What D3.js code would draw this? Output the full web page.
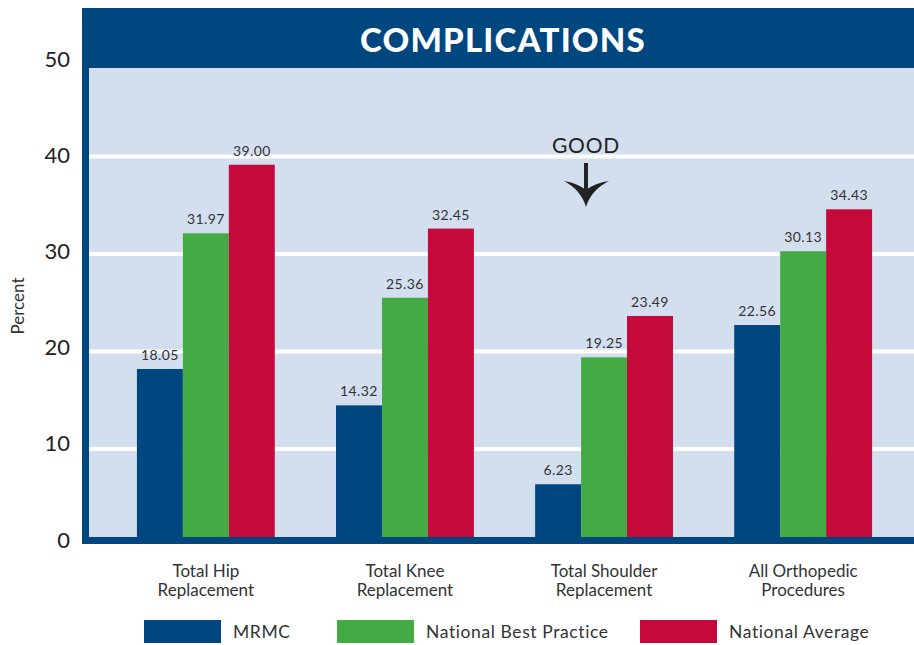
<!DOCTYPE html>
<html>
<head>
<meta charset="utf-8">
<script src="https://cdn.jsdelivr.net/npm/d3@7"></script>
<style>
  body { margin: 0; background: #fff; }
  text { font-family: Lato, "Noto Sans", sans-serif; fill: #333; }
</style>
</head>
<body>
<script>
// chart data
var categories = ["Total Hip Replacement", "Total Knee Replacement", "Total Shoulder Replacement", "All Orthopedic Procedures"];
var categoryLines = [["Total Hip", "Replacement"], ["Total Knee", "Replacement"], ["Total Shoulder", "Replacement"], ["All Orthopedic", "Procedures"]];
var seriesNames = ["MRMC", "National Best Practice", "National Average"];
var mrmc = [18.05, 14.32, 6.23, 22.56];
var bestPractice = [31.97, 25.36, 19.25, 30.13];
var nationalAvg = [39.00, 32.45, 23.49, 34.43];
var yTicks = [0, 10, 20, 30, 40, 50];
var colors = ["#00467f", "#44ab44", "#c5093b"];

var seriesValues = [mrmc, bestPractice, nationalAvg];

var width = 914, height = 645;
var frame = {left: 82, right: 914, top: 8, titleBottom: 68, plotLeft: 89, plotBottom: 537};

var svg = d3.select("body").append("svg")
    .attr("width", width)
    .attr("height", height);

// scales
var xScale = d3.scaleBand()
  .domain(categories)
  .range([106.3, 902.7])
  .paddingInner(0.3076)
  .paddingOuter(0.1538);
var xSub = d3.scaleBand()
  .domain(seriesNames)
  .range([0, xScale.bandwidth()]);
var yScale = d3.scaleLinear()
  .domain([0, 50])
  .range([545, 57.5]);
// tick labels sit on a slightly tighter spacing than the bars
var yLabel = d3.scaleLinear()
  .domain([0, 50])
  .range([547.5, 67]);

// frame: title bar, left border, plot background
svg.append("rect")
    .attr("x", frame.left).attr("y", frame.top)
    .attr("width", frame.right - frame.left).attr("height", frame.plotBottom + 7 - frame.top)
    .attr("fill", "#00467f");
svg.append("rect")
    .attr("x", frame.plotLeft).attr("y", frame.titleBottom)
    .attr("width", frame.right - frame.plotLeft).attr("height", frame.plotBottom - frame.titleBottom)
    .attr("fill", "#d3deef");

svg.append("text")
    .attr("x", 503).attr("y", 52)
    .attr("text-anchor", "middle")
    .style("font-size", "33px").style("font-weight", 900).style("fill", "#fff")
    .style("letter-spacing", "1.2px")
    .text("COMPLICATIONS");

// gridlines
svg.selectAll(".grid")
    .data(yTicks.filter(function(d) { return d > 0 && d < 50; }))
  .enter().append("line")
    .attr("class", "grid")
    .attr("x1", frame.plotLeft).attr("x2", frame.right)
    .attr("y1", function(d) { return yScale(d) + 1.5; })
    .attr("y2", function(d) { return yScale(d) + 1.5; })
    .attr("stroke", "#fff").attr("stroke-width", 4);

// y tick labels
svg.selectAll(".ytick")
    .data(yTicks)
  .enter().append("text")
    .attr("class", "ytick")
    .attr("x", 70)
    .attr("y", function(d) { return yLabel(d); })
    .attr("text-anchor", "end")
    .style("font-size", "22px").style("fill", "#222")
    .text(function(d) { return d; });

svg.append("text")
    .attr("transform", "translate(24,306) rotate(-90)")
    .attr("text-anchor", "middle")
    .style("font-size", "17px")
    .text("Percent");

// bars
var groups = svg.selectAll(".group")
    .data(categories)
  .enter().append("g")
    .attr("class", "group")
    .attr("transform", function(d) { return "translate(" + xScale(d) + ",0)"; });

groups.selectAll("rect")
    .data(function(d, i) { return seriesNames.map(function(s, j) { return {s: s, v: seriesValues[j][i], c: colors[j]}; }); })
  .enter().append("rect")
    .attr("x", function(d) { return xSub(d.s); })
    .attr("y", function(d) { return yScale(d.v); })
    .attr("width", xSub.bandwidth())
    .attr("height", function(d) { return frame.plotBottom - yScale(d.v); })
    .attr("fill", function(d) { return d.c; });

groups.selectAll(".val")
    .data(function(d, i) { return seriesNames.map(function(s, j) { return {s: s, v: seriesValues[j][i]}; }); })
  .enter().append("text")
    .attr("class", "val")
    .attr("x", function(d) { return xSub(d.s) + xSub.bandwidth() / 2; })
    .attr("y", function(d) { return yScale(d.v) - 9; })
    .attr("text-anchor", "middle")
    .style("font-size", "14px").style("letter-spacing", "0.4px")
    .text(function(d) { return d.v.toFixed(2); });

// category labels
groups.selectAll(".cat")
    .data(function(d, i) { return categoryLines[i]; })
  .enter().append("text")
    .attr("class", "cat")
    .attr("x", xScale.bandwidth() / 2)
    .attr("y", function(d, k) { return 577 + k * 19; })
    .attr("text-anchor", "middle")
    .style("font-size", "17px")
    .text(function(d) { return d; });

// GOOD arrow
svg.append("text")
    .attr("x", 586).attr("y", 153)
    .attr("text-anchor", "middle")
    .style("font-size", "21px").style("fill", "#222").style("letter-spacing", "0.8px")
    .text("GOOD");
svg.append("line")
    .attr("x1", 586).attr("x2", 586).attr("y1", 163).attr("y2", 192)
    .attr("stroke", "#222").attr("stroke-width", 4);
svg.append("path")
    .attr("d", "M564,181 Q581,190 586,207 Q591,190 609,181 Q595,183 586,190 Q577,183 564,181 Z")
    .attr("fill", "#222");

// legend
var legendX = [144, 337, 640];
var legend = svg.selectAll(".legend")
    .data(seriesNames)
  .enter().append("g")
    .attr("class", "legend")
    .attr("transform", function(d, i) { return "translate(" + legendX[i] + ",620)"; });
legend.append("rect")
    .attr("width", 77).attr("height", 23)
    .attr("fill", function(d, i) { return colors[i]; });
legend.append("text")
    .attr("x", 89).attr("y", 18)
    .style("font-size", "17.5px").style("letter-spacing", "0.6px")
    .text(function(d) { return d; });
</script>
</body>
</html>
